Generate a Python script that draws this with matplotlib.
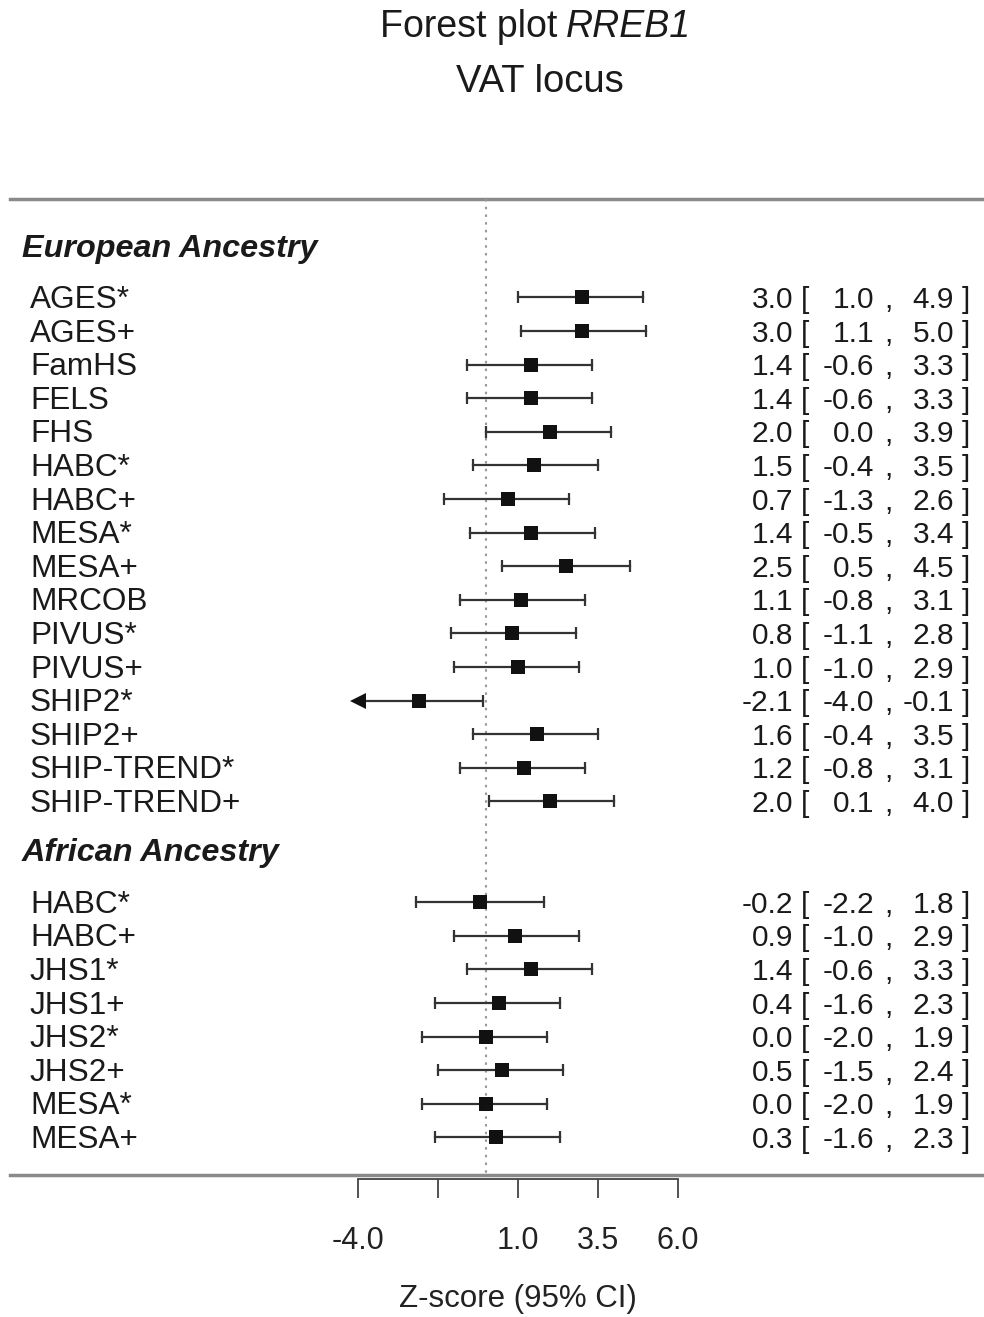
# -*- coding: utf-8 -*-

"""Forest plot of RREB1 z-scores at the VAT locus."""

import matplotlib
matplotlib.use('Agg')
import matplotlib.pyplot as plt
import matplotlib.transforms as mtransforms

plt.rcParams['font.family'] = ['Liberation Sans', 'DejaVu Sans']

# Data
eur_studies = ['AGES*', 'AGES+', 'FamHS', 'FELS', 'FHS', 'HABC*', 'HABC+', 'MESA*',
               'MESA+', 'MRCOB', 'PIVUS*', 'PIVUS+', 'SHIP2*', 'SHIP2+',
               'SHIP-TREND*', 'SHIP-TREND+']
eur_z = [3.0, 3.0, 1.4, 1.4, 2.0, 1.5, 0.7, 1.4, 2.5, 1.1, 0.8, 1.0, -2.1, 1.6, 1.2, 2.0]
eur_lo = [1.0, 1.1, -0.6, -0.6, 0.0, -0.4, -1.3, -0.5, 0.5, -0.8, -1.1, -1.0, -4.0, -0.4, -0.8, 0.1]
eur_hi = [4.9, 5.0, 3.3, 3.3, 3.9, 3.5, 2.6, 3.4, 4.5, 3.1, 2.8, 2.9, -0.1, 3.5, 3.1, 4.0]

afr_studies = ['HABC*', 'HABC+', 'JHS1*', 'JHS1+', 'JHS2*', 'JHS2+', 'MESA*', 'MESA+']
afr_z = [-0.2, 0.9, 1.4, 0.4, 0.0, 0.5, 0.0, 0.3]
afr_lo = [-2.2, -1.0, -0.6, -1.6, -2.0, -1.5, -2.0, -1.6]
afr_hi = [1.8, 2.9, 3.3, 2.3, 1.9, 2.4, 1.9, 2.3]

x_ticks = [-4.0, -1.5, 1.0, 3.5, 6.0]
x_tick_labels = ['-4.0', '', '1.0', '3.5', '6.0']

W, H = 984, 1317
TXT = '#1a1a1a'
fig = plt.figure(figsize=(W / 100, H / 100), dpi=100)

# axes spans full width; bottom edge is the z-score axis
ax_bottom = 1179
ax = fig.add_axes([0, (H - ax_bottom) / H, 1, ax_bottom / H])
# pixel x = 486 + 32 * z ; pixel y = 247 + 33.6 * row
ax.set_xlim((0 - 486) / 32, (W - 486) / 32)
ax.set_ylim((ax_bottom - 247) / 33.6, (0 - 247) / 33.6)

for side in ['top', 'left', 'right']:
    ax.spines[side].set_visible(False)
ax.spines['bottom'].set_bounds(x_ticks[0], x_ticks[-1])
ax.spines['bottom'].set_linewidth(1.3)
ax.spines['bottom'].set_color('#444444')
ax.set_yticks([])
ax.set_xticks(x_ticks)
ax.set_xticklabels(x_tick_labels, fontsize=22, color='#222222')
ax.tick_params(axis='x', direction='out', length=14, width=1.3, color='#444444', pad=20)
ax.set_xlabel('Z-score (95% CI)', fontsize=22.5, color='#222222', labelpad=20)
ax.xaxis.label.set_x(518 / W)

fx = mtransforms.blended_transform_factory(fig.transFigure, ax.transData)

# rows
rows_eur = [1.5 + i for i in range(len(eur_studies))]
rows_afr = [19.5 + i for i in range(len(afr_studies))]
top_row = (199 - 247) / 33.6
bot_row = (1175 - 247) / 33.6

ax.plot([10 / W, 1], [top_row, top_row], transform=fx, color='#8a8a8a', lw=2.5, clip_on=False)
ax.plot([10 / W, 1], [bot_row, bot_row], transform=fx, color='#8a8a8a', lw=2.5, clip_on=False)
ax.plot([0, 0], [top_row, bot_row], color='#999999', lw=1.5, ls=(0, (1.2, 2.5)))

ax.text(22 / W, 0.05, 'European Ancestry', transform=fx, fontsize=23.3, fontweight='bold',
        fontstyle='italic', va='center', ha='left', color=TXT)
ax.text(22 / W, 18.05, 'African Ancestry', transform=fx, fontsize=23.3, fontweight='bold',
        fontstyle='italic', va='center', ha='left', color=TXT)

studies = eur_studies + afr_studies
z = eur_z + afr_z
lo = eur_lo + afr_lo
hi = eur_hi + afr_hi
rows = rows_eur + rows_afr

for name, zi, l, h, r in zip(studies, z, lo, hi, rows):
    ax.plot([max(l, x_ticks[0]), h], [r, r], color='#333333', lw=1.6)
    if l <= x_ticks[0]:
        ax.plot(x_ticks[0], r, marker='<', markersize=11, color='#111111', mew=0)
    else:
        ax.plot(l, r, marker='|', markersize=9, mew=1.6, color='#333333')
    ax.plot(h, r, marker='|', markersize=9, mew=1.6, color='#333333')
    ax.plot(zi, r, marker='s', markersize=10, color='#111111', mew=0)

    # labels and numbers
    ty = r + 0.08
    ax.text(30 / W, ty, name, transform=fx, fontsize=22.7, va='center', ha='left', color=TXT)
    kw = dict(transform=fx, fontsize=21.5, va='center', color=TXT)
    ax.text(793 / W, ty, f'{zi:.1f}', ha='right', **kw)
    ax.text(801 / W, ty, '[', ha='left', **kw)
    ax.text(874 / W, ty, f'{l:.1f}', ha='right', **kw)
    ax.text(884 / W, ty, ',', ha='left', **kw)
    ax.text(954 / W, ty, f'{h:.1f}', ha='right', **kw)
    ax.text(962 / W, ty, ']', ha='left', **kw)

# title
fig.text(557 / W, 1 - 27 / H, 'Forest plot', fontsize=27, ha='right', va='center', color=TXT)
fig.text(566 / W, 1 - 27 / H, 'RREB1', fontsize=27, fontstyle='italic', ha='left',
         va='center', color=TXT)
fig.text(540 / W, 1 - 82 / H, 'VAT locus', fontsize=27.5, ha='center', va='center', color=TXT)

fig.savefig('out.png', dpi=100)
